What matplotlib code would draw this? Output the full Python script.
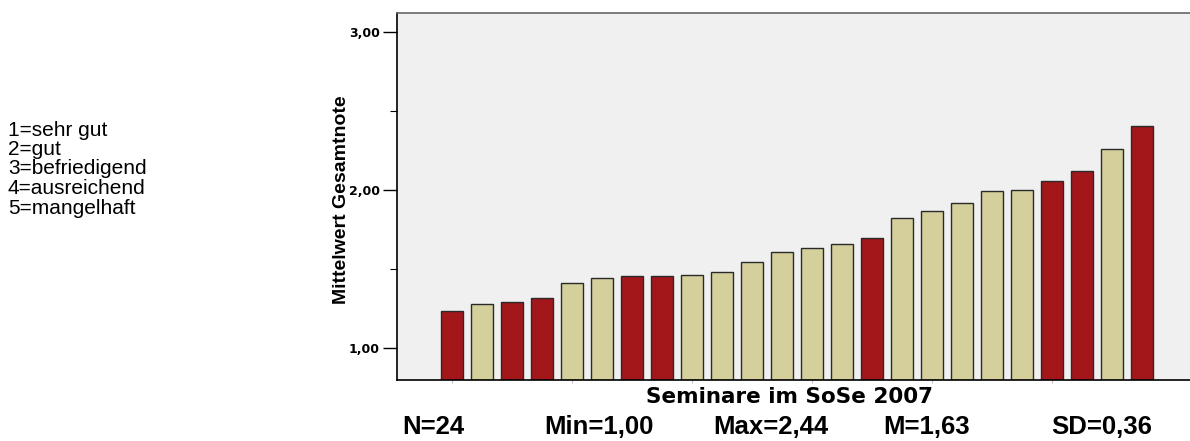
import matplotlib
matplotlib.use("Agg")
import matplotlib.pyplot as plt
from matplotlib import font_manager
from matplotlib.ticker import FixedLocator

# mean grade per seminar, sorted
werte = [1.234, 1.278, 1.29, 1.316, 1.41, 1.442, 1.459, 1.459, 1.461, 1.484,
         1.543, 1.608, 1.632, 1.661, 1.70, 1.825, 1.865, 1.916, 1.994, 2.0,
         2.06, 2.12, 2.259, 2.405]
markiert = [1, 0, 1, 1, 0, 0, 1, 1, 0, 0, 0, 0, 0, 0, 1, 0, 0, 0, 0, 0,
            1, 1, 0, 1]
y_ticks = [1.0, 2.0, 3.0]
y_labels = ["1,00", "2,00", "3,00"]
legende = ["1=sehr gut", "2=gut", "3=befriedigend", "4=ausreichend", "5=mangelhaft"]
statistik = ["N=24", "Min=1,00", "Max=2,44", "M=1,63", "SD=0,36"]
stat_x = [433, 599, 771, 927, 1102]

ROT = "#a3161a"
BEIGE = "#d4cf9b"

names = {f.name for f in font_manager.fontManager.ttflist}
narrow = "Liberation Sans Narrow" if "Liberation Sans Narrow" in names else "Liberation Sans"
plt.rcParams["font.family"] = ["Liberation Sans", "DejaVu Sans"]

W, H = 1190, 441
fig = plt.figure(figsize=(W / 100, H / 100), dpi=100)
ax = fig.add_axes([396.7 / W, 1 - 380 / H, 1 - 396.7 / W, (380 - 12.7) / H])
ax.set_facecolor("#f0f0f0")

x = list(range(len(werte)))
farben = [ROT if m else BEIGE for m in markiert]
base = 0.8
ax.bar(x, [w - base for w in werte], bottom=base, width=0.755, color=farben,
       edgecolor="#2a2a2a", linewidth=1.0)

ax.set_xlim(-1.843, 24.6)
ax.set_ylim(0.8, 3.12)

ax.yaxis.set_major_locator(FixedLocator(y_ticks))
ax.set_yticklabels(y_labels, fontsize=9, fontweight="bold", family="DejaVu Sans")
ax.yaxis.set_minor_locator(FixedLocator([1.5, 2.5]))
ax.tick_params(axis="y", which="major", length=10, width=1.0, color="black", pad=2)
ax.tick_params(axis="y", which="minor", length=5, width=0.8, color="black")
ax.set_xticks(x[::4])
ax.set_xticklabels([])
ax.tick_params(axis="x", length=2, width=0.6, color="#aaaaaa")

for s in ["left", "bottom"]:
    ax.spines[s].set_color("black")
    ax.spines[s].set_linewidth(1.2)
ax.spines["top"].set_color("#666666")
ax.spines["top"].set_linewidth(1.2)
ax.spines["right"].set_visible(False)

fig.text(341 / W, 1 - 200 / H, "Mittelwert Gesamtnote", rotation=90,
         ha="center", va="center", fontsize=14, fontweight="bold", family=narrow)
fig.text(790 / W, 1 - 397 / H, "Seminare im SoSe 2007", ha="center", va="center",
         fontsize=15.5, fontweight="bold", family="DejaVu Sans")

for s, xs in zip(statistik, stat_x):
    fig.text(xs / W, 1 - 427 / H, s, ha="center", va="center",
             fontsize=18.5, fontweight="bold")

for i, t in enumerate(legende):
    fig.text(8 / W, 1 - (130 + 19.5 * i) / H, t, ha="left", va="center",
             fontsize=15)

fig.savefig("out.png", dpi=100)
